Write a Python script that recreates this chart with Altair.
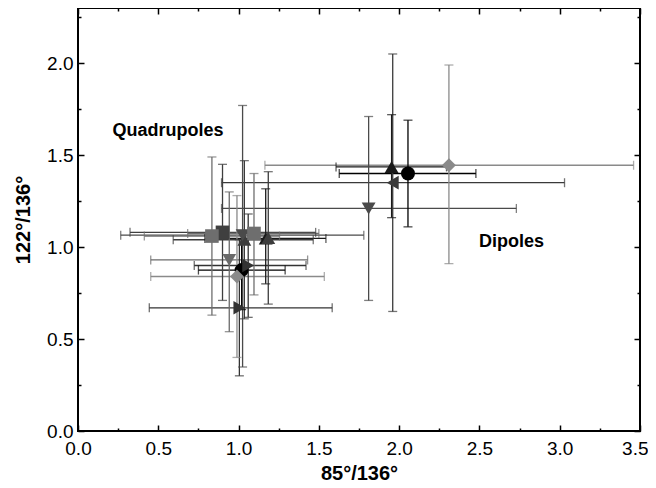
import altair as alt
import pandas as pd

# ---- data ----
series = ["circ", "circ", "diam", "diam", "upA", "upA", "upB", "upB", "dnA", "dnA",
          "dnB", "left", "right", "right", "sqA", "sqB", "sqB"]
xs   = [2.055, 1.019, 2.31, 0.99, 1.953, 1.169, 1.036, 1.185, 1.81, 1.025,
        0.942, 1.96, 1.06, 1.005, 0.90, 0.834, 1.096]
ys   = [1.40, 0.875, 1.445, 0.84, 1.436, 1.047, 1.04, 1.05, 1.21, 1.065,
        0.93, 1.35, 0.90, 0.67, 1.08, 1.06, 1.074]
x_lo = [1.627, 0.75, 1.164, 0.453, 1.607, 0.79, 0.593, 1.185, 0.894, 0.266,
        0.453, 0.894, 0.724, 0.444, 0.324, 0.413, 0.683]
x_hi = [2.478, 1.29, 3.46, 1.534, 2.295, 1.544, 1.465, 1.185, 2.73, 1.78,
        1.43, 3.03, 1.42, 1.583, 1.48, 1.255, 1.50]
y_lo = [1.11, 0.66, 0.91, 0.40, 1.16, 0.80, 0.61, 0.69, 0.71, 0.348,
        0.54, 0.65, 0.618, 0.30, 0.71, 0.63, 0.74]
y_hi = [1.69, 1.09, 1.99, 1.28, 1.72, 1.317, 1.47, 1.41, 1.71, 1.77,
        1.30, 2.05, 1.18, 1.04, 1.45, 1.49, 1.40]

labels = ["Quadrupoles", "Dipoles"]
label_x = [0.56, 2.70]
label_y = [1.63, 1.03]

x_major = [0.0, 0.5, 1.0, 1.5, 2.0, 2.5, 3.0, 3.5]
x_minor = [0.25, 0.75, 1.25, 1.75, 2.25, 2.75, 3.25]
y_major = [0.0, 0.5, 1.0, 1.5, 2.0]
y_minor = [0.25, 0.75, 1.25, 1.75, 2.25]

# ---- styles ----
ser_domain = ["circ", "diam", "upA", "upB", "dnA", "dnB", "left", "right", "sqA", "sqB"]
ser_colors = ["#000000", "#8a8a8a", "#1a1a1a", "#3c3c3c", "#4a4a4a", "#6a6a6a",
              "#3a3a3a", "#333333", "#3f3f3f", "#6e6e6e"]
ser_shapes = ["circle", "diamond", "triangle-up", "triangle-up", "triangle-down",
              "triangle-down", "triangle-left", "triangle-right", "square", "square"]
ser_sizes = [195, 185, 180, 180, 180, 180, 180, 180, 130, 130]

W, H = 562, 423
FONT = "Liberation Sans"

df = pd.DataFrame({"series": series, "x": xs, "y": ys, "x_lo": x_lo, "x_hi": x_hi,
                   "y_lo": y_lo, "y_hi": y_hi})
tdf = pd.DataFrame({"label": labels, "x": label_x, "y": label_y})

xs_scale = alt.Scale(domain=[0, 3.5], nice=False, zero=False)
ys_scale = alt.Scale(domain=[0, 2.3], nice=False, zero=False)
color = alt.Color("series:N", scale=alt.Scale(domain=ser_domain, range=ser_colors), legend=None)


def tick_axis(orient, offset, values, size):
    return alt.Axis(orient=orient, offset=offset, values=values, labels=False, domain=False,
                    grid=False, ticks=True, tickSize=size, tickWidth=1.5, tickColor="black",
                    title=None)


ax_x_main = alt.Axis(orient="bottom", values=x_major[:-1], format=".1f", ticks=False,
                     tickSize=0, domain=False, grid=False, labelFontSize=19, labelFont=FONT,
                     labelColor="black", labelPadding=8, labelFlush=False,
                     labelOverlap=False, title="85°/136°", titleFont=FONT,
                     titleFontSize=20, titleFontWeight="bold", titleColor="black",
                     titlePadding=5)
# last x label, pushed flush so it stays inside the page
ax_x_last = alt.Axis(orient="bottom", values=x_major[-1:], format=".1f", ticks=False,
                     tickSize=0, domain=False, grid=False, labelFontSize=19, labelFont=FONT,
                     labelColor="black", labelPadding=8, labelFlush=True,
                     labelFlushOffset=8, labelOverlap=False, title=None)
ax_y_main = alt.Axis(orient="left", values=y_major, format=".1f", ticks=False, tickSize=0,
                     domain=False, grid=False, labelFontSize=19, labelFont=FONT,
                     labelColor="black", labelPadding=5, labelFlush=False,
                     labelOverlap=False, title="122°/136°", titleFont=FONT,
                     titleFontSize=20, titleFontWeight="bold", titleColor="black",
                     titlePadding=13)

base = alt.Chart(df)

hrule = base.mark_rule(strokeWidth=1.3).encode(
    x=alt.X("x_lo:Q", scale=xs_scale, axis=tick_axis("top", -H, x_major, 6)),
    x2="x_hi:Q",
    y=alt.Y("y:Q", scale=ys_scale, axis=tick_axis("left", -W, y_minor, 3)),
    color=color,
)
vrule = base.mark_rule(strokeWidth=1.3).encode(
    x=alt.X("x:Q", scale=xs_scale, axis=tick_axis("top", -H, x_minor, 3)),
    y=alt.Y("y_lo:Q", scale=ys_scale, axis=None),
    y2="y_hi:Q",
    color=color,
)
cap_xlo = base.mark_tick(orient="vertical", size=9, thickness=1.3).encode(
    x=alt.X("x_lo:Q", scale=xs_scale, axis=tick_axis("bottom", -H, x_major, 6)),
    y=alt.Y("y:Q", scale=ys_scale, axis=None),
    color=color,
)
cap_xhi = base.mark_tick(orient="vertical", size=9, thickness=1.3).encode(
    x=alt.X("x_hi:Q", scale=xs_scale, axis=tick_axis("bottom", -H, x_minor, 3)),
    y=alt.Y("y:Q", scale=ys_scale, axis=None),
    color=color,
)
cap_ylo = base.mark_tick(orient="horizontal", size=9, thickness=1.3).encode(
    x=alt.X("x:Q", scale=xs_scale, axis=None),
    y=alt.Y("y_lo:Q", scale=ys_scale, axis=tick_axis("right", -W, y_major, 6)),
    color=color,
)
cap_yhi = base.mark_tick(orient="horizontal", size=9, thickness=1.3).encode(
    x=alt.X("x:Q", scale=xs_scale, axis=None),
    y=alt.Y("y_hi:Q", scale=ys_scale, axis=tick_axis("right", -W, y_minor, 3)),
    color=color,
)
points = base.mark_point(filled=True, opacity=1, strokeWidth=0).encode(
    x=alt.X("x:Q", scale=xs_scale, axis=ax_x_main),
    y=alt.Y("y:Q", scale=ys_scale, axis=ax_y_main),
    color=color,
    shape=alt.Shape("series:N", scale=alt.Scale(domain=ser_domain, range=ser_shapes), legend=None),
    size=alt.Size("series:N", scale=alt.Scale(domain=ser_domain, range=ser_sizes), legend=None),
)
text = alt.Chart(tdf).mark_text(font=FONT, fontSize=18, fontWeight="bold", color="black",
                                align="center", baseline="middle").encode(
    x=alt.X("x:Q", scale=xs_scale, axis=ax_x_last),
    y=alt.Y("y:Q", scale=ys_scale, axis=tick_axis("left", -W, y_major, 6)),
    text="label:N",
)

chart = alt.layer(hrule, vrule, cap_xlo, cap_xhi, cap_ylo, cap_yhi, points, text).resolve_axis(
    x="independent", y="independent"
).properties(
    width=W, height=H,
    autosize=alt.AutoSizeParams(type="none"),
    padding={"left": 70, "top": 0, "right": 8, "bottom": 57},
).configure_view(stroke="black", strokeWidth=2).configure_axis(grid=False)

chart.save("out.html", embed_options={"renderer": "svg", "actions": False})
